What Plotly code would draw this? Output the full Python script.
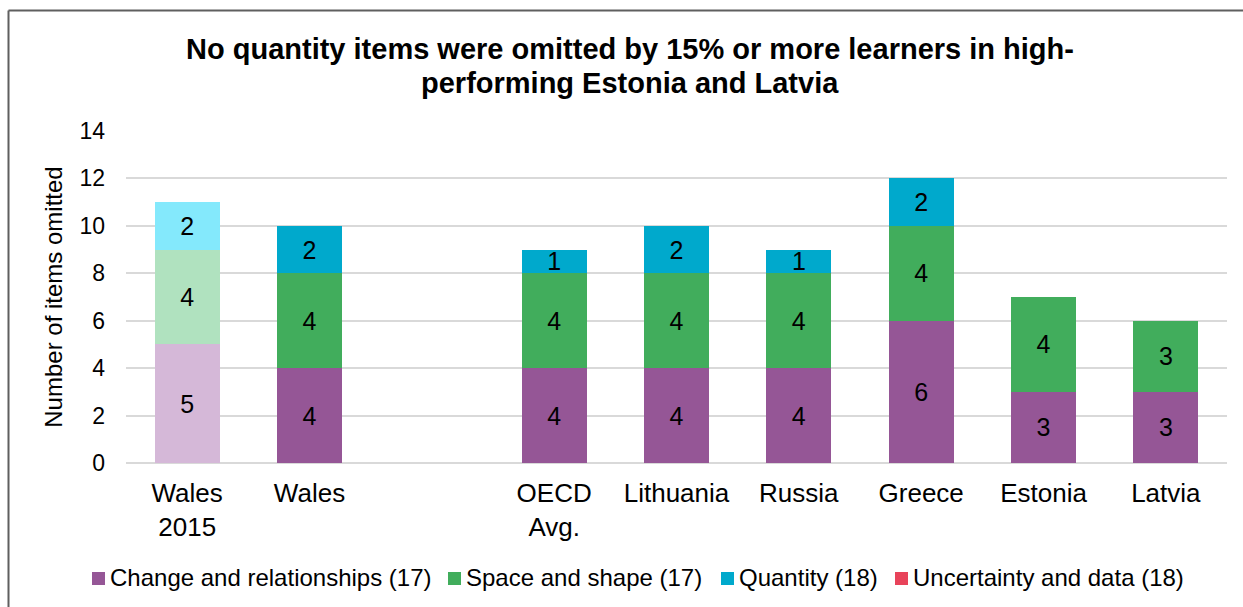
import plotly.graph_objects as go

# Categories (an empty slot separates Wales from the comparison countries)
categories = ["Wales<br>2015", "Wales", " ", "OECD<br>Avg.", "Lithuania", "Russia", "Greece", "Estonia", "Latvia"]

# Number of items omitted by 15% or more learners, per content area
change_rel = [5, 4, None, 4, 4, 4, 6, 3, 3]
space_shape = [4, 4, None, 4, 4, 4, 4, 4, 3]
quantity = [2, 2, None, 1, 2, 1, 2, None, None]
uncertainty = [None] * 9

series_names = [
    "Change and relationships (17)",
    "Space and shape (17)",
    "Quantity (18)",
    "Uncertainty and data (18)",
]
base_colors = ["#955696", "#41AD5C", "#00A9CC", "#E8435A"]
faded_colors = ["#D5B8D8", "#B0E2BF", "#84E9FC", "#F4A8B3"]

FONT = "Liberation Sans, Arial, sans-serif"

W, H = 1243, 607
M_L, M_R, M_T, M_B = 126, 16, 131, 144
PLOT_W = W - M_L - M_R
PLOT_H = H - M_T - M_B


def px_x(px):
    return (px - M_L) / PLOT_W


def px_y(py):
    return 1 - (py - M_T) / PLOT_H


fig = go.Figure()
for name, vals, c, fc in zip(series_names, [change_rel, space_shape, quantity, uncertainty],
                             base_colors, faded_colors):
    # the 2015 bar is drawn in a faded tint of each series colour
    colors = [fc] + [c] * (len(categories) - 1)
    fig.add_trace(go.Bar(
        x=categories,
        y=vals,
        name=name,
        marker=dict(color=colors, line=dict(width=0)),
        text=[("" if v is None else str(v)) for v in vals],
        textposition="inside",
        insidetextanchor="middle",
        textangle=0,
        constraintext="none",
        textfont=dict(family=FONT, size=25, color="#000000"),
        hoverinfo="x+y+name",
        showlegend=False,
    ))

annotations = []

# Two-line bold title
title_lines = [
    ("No quantity items were omitted by 15% or more learners in high-", 48.5),
    ("performing Estonia and Latvia", 83),
]
for txt, yc in title_lines:
    annotations.append(dict(
        text=f"<b>{txt}</b>", xref="paper", yref="paper",
        x=px_x(630), y=px_y(yc), xanchor="center", yanchor="middle",
        showarrow=False, font=dict(family=FONT, size=29, color="#000000"),
    ))

# Legend row: coloured square followed by the series label
legend_x = [92, 448, 721, 895]
legend_y = 578.5
shapes = []
for name, c, x0 in zip(series_names, base_colors, legend_x):
    shapes.append(dict(type="rect", xref="paper", yref="paper",
                       x0=px_x(x0), x1=px_x(x0 + 13),
                       y0=px_y(legend_y + 6.5), y1=px_y(legend_y - 6.5),
                       fillcolor=c, line=dict(width=0)))
    annotations.append(dict(
        text=name, xref="paper", yref="paper",
        x=px_x(x0 + 16), y=px_y(legend_y - 1), xanchor="left", yanchor="middle",
        showarrow=False, font=dict(family=FONT, size=24, color="#000000"),
    ))

# Outer chart frame (left and top edges visible)
x_left = px_x(8.5)
y_top = px_y(10.5)
shapes.append(dict(type="line", xref="paper", yref="paper",
                   x0=x_left, x1=1.2, y0=y_top, y1=y_top,
                   line=dict(color="#5F5F5F", width=2)))
shapes.append(dict(type="line", xref="paper", yref="paper",
                   x0=x_left, x1=x_left, y0=y_top, y1=-0.6,
                   line=dict(color="#5F5F5F", width=2)))

fig.update_layout(
    barmode="stack",
    bargap=0.47,
    width=W,
    height=H,
    margin=dict(l=M_L, r=M_R, t=M_T, b=M_B),
    paper_bgcolor="white",
    plot_bgcolor="white",
    font=dict(family=FONT, color="#000000"),
    showlegend=False,
    xaxis=dict(
        type="category",
        categoryorder="array",
        categoryarray=categories,
        showgrid=False,
        showline=False,
        ticks="",
        tickfont=dict(family=FONT, size=26, color="#000000"),
        ticklabelstandoff=12,
    ),
    yaxis=dict(
        range=[0, 14],
        dtick=2,
        showgrid=True,
        gridcolor="#D9D9D9",
        gridwidth=1.5,
        zeroline=True,
        zerolinecolor="#D9D9D9",
        zerolinewidth=1.5,
        showline=False,
        ticks="",
        tickfont=dict(family=FONT, size=23, color="#000000"),
        ticklabelstandoff=20,
        title=dict(text="Number of items omitted",
                   font=dict(family=FONT, size=24, color="#000000"),
                   standoff=10),
    ),
    annotations=annotations,
    shapes=shapes,
)

fig.write_html("out.html")
